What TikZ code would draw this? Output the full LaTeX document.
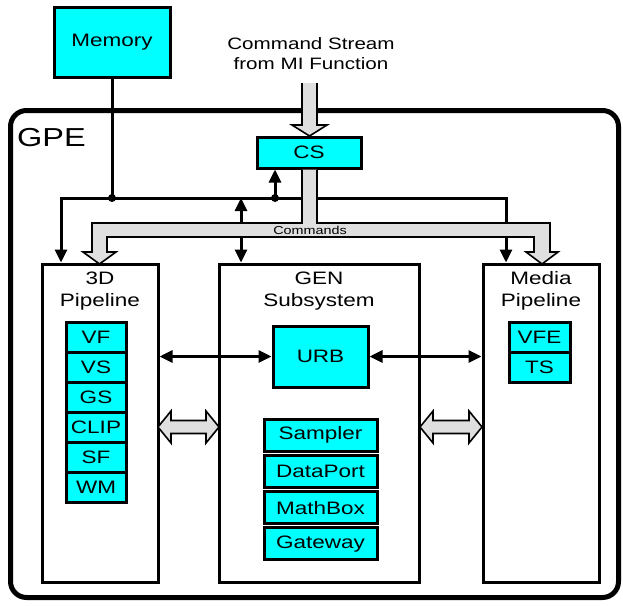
\documentclass[tikz,border=0pt]{standalone}
\usepackage{fontspec}
\setmainfont{Liberation Sans}[FakeStretch=1.25]
\usetikzlibrary{arrows.meta}

\begin{document}
\begin{tikzpicture}[x=1pt,y=-1pt,
        font=\fontsize{18}{22}\selectfont,
        caja/.style={draw,line width=3pt,fill=cian,inner sep=0pt},
        bloque/.style={draw,line width=3pt,inner sep=0pt},
        flecha/.style={line width=3pt,-{Triangle[length=13pt,width=12pt]}},
        dflecha/.style={line width=3pt,{Triangle[length=13pt,width=12pt]}-{Triangle[length=13pt,width=12pt]}},
        gris/.style={fill=gray!25,draw=black,line width=1.6pt}]
        %colores
        \definecolor{cian}{RGB}{0,255,255}

        \useasboundingbox (0,0) rectangle (623,605);

        % GPE
        \draw[line width=5pt,rounded corners=16pt] (10.5,110.5) rectangle (618.5,597.5);
        \node (gpe) at (51.5,137.5) {\fontsize{26}{30}\selectfont GPE};

        % Cajas de arriba
        \node[caja,minimum width=116pt,minimum height=70pt] (mem) at (112,42) {Memory};
        \node[align=center,font=\fontsize{16.5}{20}\selectfont] (stream) at (311,54) {Command Stream\\from MI Function};
        \node[caja,minimum width=104pt,minimum height=31pt] (cs) at (309,152.5) {CS};

        % Bloques
        \node[bloque,minimum width=116pt,minimum height=318pt] (d3) at (100,423) {};
        \node[bloque,minimum width=200pt,minimum height=318pt] (gen) at (319,423) {};
        \node[bloque,minimum width=116pt,minimum height=318pt] (media) at (541,423) {};
        \node[align=center] (td3) at (100,291) {3D\\Pipeline};
        \node[align=center] (tgen) at (319,291) {GEN\\Subsystem};
        \node[align=center] (tmedia) at (541,291) {Media\\Pipeline};

        \foreach \nombre [count=\i] in {VF,VS,GS,CLIP,SF,WM}
            \node[caja,minimum width=60pt,minimum height=30pt] (tres\i) at (96,307+30*\i) {\nombre};
        \node[caja,minimum width=61pt,minimum height=30pt] (vfe) at (539.5,337) {VFE};
        \node[caja,minimum width=61pt,minimum height=30pt] (ts) at (539.5,367) {TS};
        \node[caja,minimum width=95pt,minimum height=61pt] (urb) at (320.5,356.5) {URB};
        \foreach \nombre [count=\i] in {Sampler,DataPort,MathBox,Gateway}
            \node[caja,minimum width=113pt,minimum height=32pt] (gen\i) at (320.5,398.7+36.3*\i) {\nombre};

        % Lineas
        \coordinate (nudo) at (112,198);
        \coordinate (izq) at (61,198);
        \coordinate (der) at (506,198);
        \coordinate (pcs) at (275,198);
        \coordinate (pgen) at (241,198);
        \draw[line width=3pt] (mem.south) -- (nudo);
        \draw[dflecha] (izq |- d3.north) -- (izq) -- (der) -- (der |- media.north);
        \draw[flecha] (pcs) -- (pcs |- cs.south);
        \fill (nudo) circle (4pt) (pcs) circle (4pt);
        \draw[dflecha] (pgen) -- (pgen |- gen.north);
        \draw[dflecha] (d3.east |- urb) -- (urb.west);
        \draw[dflecha] (urb.east) -- (urb.east -| media.west);

        % Bus de comandos
        \draw[gris] (302,83) -- (302,125) -- (292,125) -- (309.5,136) -- (327,125) -- (317,125) -- (317,83);
        \draw[gris] (302,169.5) -- (302,223) -- (92,223) -- (92,252) -- (83,252) -- (99.5,264) -- (116,252)
            -- (107,252) -- (107,237) -- (534,237) -- (534,252) -- (526,252) -- (542,264) -- (558,252)
            -- (550,252) -- (550,223) -- (317,223) -- (317,169.5);
        \node[font=\fontsize{11.5}{13}\selectfont] (cmd) at (310,230.5) {Commands};

        % Flechas gruesas
        \foreach \xa/\xb in {158/219, 420/482}
            \draw[gris] (\xa,427) -- (\xa+13,411) -- (\xa+13,420.5) -- (\xb-13,420.5) -- (\xb-13,411) -- (\xb,427)
                -- (\xb-13,443) -- (\xb-13,433.5) -- (\xa+13,433.5) -- (\xa+13,443) -- cycle;
    \end{tikzpicture}
\end{document}
